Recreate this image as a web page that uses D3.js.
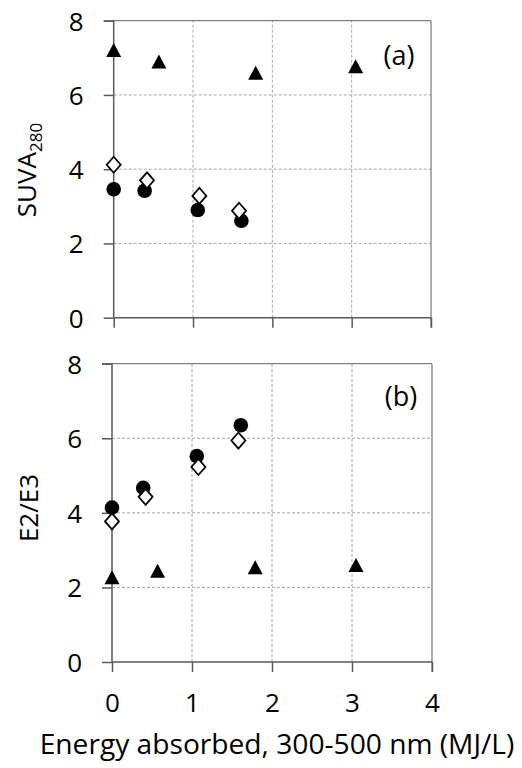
<!DOCTYPE html>
<html><head><meta charset="utf-8">
<script src="https://cdn.jsdelivr.net/npm/d3@7"></script>
<style>body{margin:0;background:#fff}svg{display:block}text{font-family:"Open Sans",sans-serif;fill:#000}</style>
</head><body>
<svg id="c" width="522" height="768"></svg>
<script>
// ---- data ----
const xTicks = [0, 1, 2, 3, 4];
const yTicks = [0, 2, 4, 6, 8];
const triX = [0, 0.57, 1.79, 3.05];
const circX = [0, 0.39, 1.06, 1.61];
const diamX = [0, 0.42, 1.08, 1.58];
const suvaTri = [7.21, 6.9, 6.6, 6.77];
const suvaCirc = [3.46, 3.42, 2.9, 2.61];
const suvaDiam = [4.12, 3.70, 3.28, 2.88];
const e2e3Tri = [2.27, 2.45, 2.54, 2.6];
const e2e3Circ = [4.14, 4.67, 5.52, 6.35];
const e2e3Diam = [3.77, 4.43, 5.23, 5.94];
const panelLabels = ["(a)", "(b)"];
const yTitles = ["SUVA", "E2/E3"];
const xTitle = "Energy absorbed, 300-500 nm (MJ/L)";

const svg = d3.select("#c");
const panels = [
  {x0:113.7, x1:431, y0:317.7, y1:20.7, tri:suvaTri, circ:suvaCirc, diam:suvaDiam, label:panelLabels[0], title:yTitles[0], sub:"280", lx:399, ly:65, tx:27, ty:170},
  {x0:112, x1:432, y0:662, y1:363.7, tri:e2e3Tri, circ:e2e3Circ, diam:e2e3Diam, label:panelLabels[1], title:yTitles[1], sub:null, lx:401, ly:406, tx:29, ty:508}
];

const triPath = "M0,-7L7.5,7L-7.5,7Z";
const diamPath = "M0,-8L7,0L0,8L-7,0Z";
const FS = 26;

panels.forEach((p, i) => {
  const x = d3.scaleLinear().domain([0, 4]).range([p.x0, p.x1]);
  const y = d3.scaleLinear().domain([0, 8]).range([p.y0, p.y1]);
  const g = svg.append("g");
  // grid
  g.selectAll(".gx").data(xTicks.slice(1, -1)).join("line")
    .attr("x1", d => x(d)).attr("x2", d => x(d)).attr("y1", p.y0).attr("y2", p.y1)
    .attr("stroke", "#a6a6a6").attr("stroke-width", 1).attr("stroke-dasharray", "3,2");
  g.selectAll(".gy").data(yTicks.slice(1, -1)).join("line")
    .attr("x1", p.x0).attr("x2", p.x1).attr("y1", d => y(d)).attr("y2", d => y(d))
    .attr("stroke", "#a6a6a6").attr("stroke-width", 1).attr("stroke-dasharray", "3,2");
  // top & right border
  g.append("line").attr("x1", p.x0 - 10).attr("x2", p.x1).attr("y1", y(8)).attr("y2", y(8)).attr("stroke", "#808080").attr("stroke-width", 1.3);
  g.append("line").attr("x1", x(4)).attr("x2", x(4)).attr("y1", p.y1).attr("y2", p.y0 + 10).attr("stroke", "#808080").attr("stroke-width", 1.3);
  // axes
  const ya = g.append("g").attr("transform", `translate(${p.x0},0)`)
    .call(d3.axisLeft(y).tickValues(yTicks).tickSize(10).tickPadding(20).tickFormat(d3.format("d")));
  const xa = g.append("g").attr("transform", `translate(0,${p.y0})`)
    .call(d3.axisBottom(x).tickValues(xTicks).tickSize(10).tickPadding(22).tickFormat(d3.format("d")));
  [ya, xa].forEach(a => {
    a.select(".domain").attr("stroke", "#595959").attr("stroke-width", 1.5);
    a.selectAll(".tick line").attr("stroke", "#595959").attr("stroke-width", 1.5);
    a.selectAll("text").style("font-size", FS + "px").style("font-family", '"Open Sans",sans-serif').attr("fill", "#000");
  });
  ya.select(".domain").attr("d", `M0,${p.y0}V${p.y1}`);
  xa.select(".domain").attr("d", `M${p.x0},0H${p.x1}`);
  if (i === 0) xa.selectAll("text").remove();
  ya.selectAll("text").attr("dy", "0.36em");
  // markers
  g.selectAll(".tri").data(triX.map((d, k) => [d, p.tri[k]])).join("path")
    .attr("d", triPath).attr("transform", d => `translate(${x(d[0])},${y(d[1])})`).attr("fill", "#000");
  g.selectAll(".circ").data(circX.map((d, k) => [d, p.circ[k]])).join("circle")
    .attr("cx", d => x(d[0])).attr("cy", d => y(d[1])).attr("r", 7.3).attr("fill", "#000");
  g.selectAll(".diam").data(diamX.map((d, k) => [d, p.diam[k]])).join("path")
    .attr("d", diamPath).attr("transform", d => `translate(${x(d[0])},${y(d[1])})`)
    .attr("fill", "#fff").attr("stroke", "#000").attr("stroke-width", 1.8);
  // panel label
  g.append("text").attr("x", p.lx).attr("y", p.ly).attr("text-anchor", "middle").style("font-size", "27px").text(p.label);
  // y title
  const t = g.append("text").attr("transform", `translate(${p.tx},${p.ty}) rotate(-90)`).attr("text-anchor", "middle")
    .attr("dy", "0.35em").style("font-size", FS + "px").text(p.title);
  if (p.sub) t.append("tspan").attr("dy", "6").style("font-size", "17px").text(p.sub);
});

// x title
const xt = svg.append("text").attr("x", 277).attr("y", 754).attr("text-anchor", "middle").style("font-size", "23px").text(xTitle);
const w = xt.node().getComputedTextLength();
xt.style("font-size", (23 * 475 / w) + "px");
</script>
</body></html>
